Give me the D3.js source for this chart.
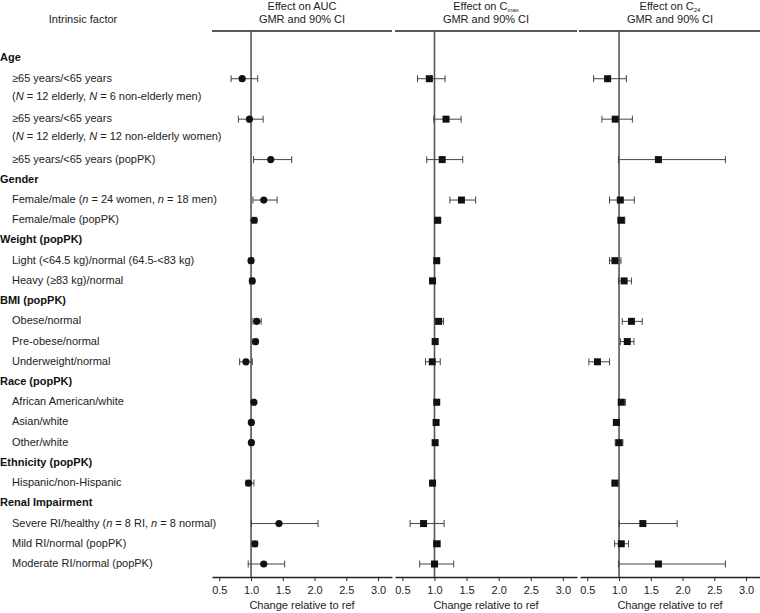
<!DOCTYPE html>
<html><head><meta charset="utf-8">
<script src="https://cdn.jsdelivr.net/npm/d3@7"></script>
<style>
body{margin:0;background:#fff;}
svg{display:block;font-family:"Liberation Sans",Arial,Helvetica,sans-serif;}
</style></head>
<body><div id="chart"></div>
<script>
// ---- data ----
// rows: [slot, kind, label]  kind: "h" header, "r" row
const groupHeaders = [
  {slot:0, text:"Age"},
  {slot:6, text:"Gender"},
  {slot:9, text:"Weight (popPK)"},
  {slot:12, text:"BMI (popPK)"},
  {slot:16, text:"Race (popPK)"},
  {slot:20, text:"Ethnicity (popPK)"},
  {slot:22, text:"Renal Impairment"}
];
const rowSlots = [1,3,5,7,8,10,11,13,14,15,17,18,19,21,23,24,25];
const rowLabels = [
  [["≥65 years/<65 years"],["(","N*"," = 12 elderly, ","N*"," = 6 non-elderly men)"]],
  [["≥65 years/<65 years"],["(","N*"," = 12 elderly, ","N*"," = 12 non-elderly women)"]],
  [["≥65 years/<65 years (popPK)"]],
  [["Female/male (","n*"," = 24 women, ","n*"," = 18 men)"]],
  [["Female/male (popPK)"]],
  [["Light (<64.5 kg)/normal (64.5-<83 kg)"]],
  [["Heavy (≥83 kg)/normal"]],
  [["Obese/normal"]],
  [["Pre-obese/normal"]],
  [["Underweight/normal"]],
  [["African American/white"]],
  [["Asian/white"]],
  [["Other/white"]],
  [["Hispanic/non-Hispanic"]],
  [["Severe RI/healthy (","n*"," = 8 RI, ","n*"," = 8 normal)"]],
  [["Mild RI/normal (popPK)"]],
  [["Moderate RI/normal (popPK)"]]
];
// AUC
const aucEst = [0.86,0.975,1.31,1.20,1.05,1.00,1.02,1.09,1.07,0.92,1.045,1.005,1.005,0.96,1.44,1.06,1.20];
const aucLo  = [0.685,0.80,1.04,1.03,1.02,0.97,0.98,1.03,1.03,0.82,1.02,0.98,0.98,0.92,1.005,1.02,0.955];
const aucHi  = [1.105,1.19,1.64,1.41,1.09,1.03,1.05,1.16,1.105,1.02,1.07,1.03,1.03,1.045,2.055,1.10,1.53];
// Cmax
const cmaxEst = [0.92,1.18,1.12,1.42,1.05,1.035,0.97,1.065,1.01,0.965,1.035,1.025,1.01,0.97,0.83,1.035,1.00];
const cmaxLo  = [0.735,0.99,0.88,1.24,1.02,1.00,0.94,1.01,0.97,0.86,1.01,1.00,0.99,0.95,0.62,0.99,0.77];
const cmaxHi  = [1.165,1.415,1.44,1.64,1.08,1.07,1.00,1.14,1.05,1.09,1.06,1.05,1.03,0.99,1.15,1.09,1.30];
// C24
const c24Est = [0.82,0.94,1.62,1.02,1.035,0.935,1.08,1.195,1.13,0.66,1.035,0.96,1.00,0.935,1.375,1.035,1.62];
const c24Lo  = [0.60,0.73,0.99,0.85,0.98,0.85,0.99,1.05,1.02,0.525,0.99,0.91,0.94,0.895,1.00,0.93,0.99];
const c24Hi  = [1.115,1.21,2.675,1.24,1.09,1.03,1.195,1.365,1.235,0.85,1.10,1.00,1.06,0.98,1.915,1.15,2.675];
const tickValues = [0.5,1.0,1.5,2.0,2.5,3.0];
const tickLabels = ["0.5","1.0","1.5","2.0","2.5","3.0"];

const panels = [
  {title:["Effect on AUC"], est:aucEst, lo:aucLo, hi:aucHi, marker:"circle", range:[212,392], top:[212,392]},
  {title:["Effect on C","max"], est:cmaxEst, lo:cmaxLo, hi:cmaxHi, marker:"square", range:[395,577], top:[395,577]},
  {title:["Effect on C","24"], est:c24Est, lo:c24Lo, hi:c24Hi, marker:"square", range:[580,760], top:[579,760]}
];

// ---- drawing ----
const W=760,H=613;
const svg=d3.select("#chart").append("svg").attr("width",W).attr("height",H);
const y=d3.scaleLinear().domain([0,25]).range([58.5,564]);
const topY=31, axisY=577;
const fs=11;

svg.append("text").attr("x",83).attr("y",20).attr("text-anchor","middle")
  .attr("dominant-baseline","middle").attr("font-size",fs).attr("fill","#222").text("Intrinsic factor");

// group headers
svg.selectAll("text.gh").data(groupHeaders).join("text").attr("class","gh")
  .attr("x",0).attr("y",d=>y(d.slot)).attr("dominant-baseline","middle")
  .attr("font-size",fs).attr("font-weight","bold").attr("fill","#111").text(d=>d.text);

// row labels
rowLabels.forEach((lines,i)=>{
  lines.forEach((parts,j)=>{
    const t=svg.append("text").attr("x",12).attr("y",y(rowSlots[i])+j*18)
      .attr("dominant-baseline","middle").attr("font-size",fs).attr("fill","#222");
    parts.forEach(p=>{
      if(p.endsWith("*")) t.append("tspan").attr("font-style","italic").text(p.slice(0,-1));
      else t.append("tspan").text(p);
    });
  });
});

panels.forEach(p=>{
  const x=d3.scaleLinear().domain([0.385,3.22]).range(p.range);
  const cx=(p.range[0]+p.range[1])/2;
  // titles
  const t1=svg.append("text").attr("x",cx).attr("y",7).attr("text-anchor","middle")
    .attr("dominant-baseline","middle").attr("font-size",fs).attr("fill","#222");
  t1.append("tspan").text(p.title[0]);
  if(p.title[1]) t1.append("tspan").attr("font-size",6).attr("dy",3).text(p.title[1]);
  svg.append("text").attr("x",cx).attr("y",20).attr("text-anchor","middle")
    .attr("dominant-baseline","middle").attr("font-size",fs).attr("fill","#222").text("GMR and 90% CI");
  // top line
  svg.append("line").attr("x1",p.top[0]).attr("x2",p.top[1]).attr("y1",topY).attr("y2",topY)
    .attr("stroke","#222").attr("stroke-width",1.3);
  // bottom axis
  const ax=d3.axisBottom(x).tickValues(tickValues).tickFormat((d,i)=>tickLabels[i]).tickSize(4).tickSizeOuter(0);
  const g=svg.append("g").attr("transform",`translate(0,${axisY})`).call(ax);
  g.select(".domain").attr("stroke","#222").attr("stroke-width",1.3);
  g.selectAll(".tick line").attr("stroke","#222");
  g.selectAll(".tick text").attr("font-size",fs).attr("fill","#222").attr("font-family","Liberation Sans, Arial, sans-serif").attr("dy","0.9em");
  svg.append("text").attr("x",cx).attr("y",606).attr("text-anchor","middle")
    .attr("dominant-baseline","middle").attr("font-size",fs).attr("fill","#222").text("Change relative to ref");
  // ref line
  svg.append("line").attr("x1",x(1)).attr("x2",x(1)).attr("y1",topY).attr("y2",axisY)
    .attr("stroke","#555").attr("stroke-width",1.6);
  // error bars
  const data=p.est.map((e,i)=>({e,lo:p.lo[i],hi:p.hi[i],yy:y(rowSlots[i])}));
  const eb=svg.append("g").attr("stroke","#444").attr("stroke-width",1);
  data.forEach(d=>{
    eb.append("line").attr("x1",x(d.lo)).attr("x2",x(d.hi)).attr("y1",d.yy).attr("y2",d.yy);
    eb.append("line").attr("x1",x(d.lo)).attr("x2",x(d.lo)).attr("y1",d.yy-3.5).attr("y2",d.yy+3.5);
    eb.append("line").attr("x1",x(d.hi)).attr("x2",x(d.hi)).attr("y1",d.yy-3.5).attr("y2",d.yy+3.5);
  });
  if(p.marker==="circle"){
    svg.append("g").selectAll("circle").data(data).join("circle")
      .attr("cx",d=>x(d.e)).attr("cy",d=>d.yy).attr("r",3.6).attr("fill","#111");
  } else {
    svg.append("g").selectAll("rect").data(data).join("rect")
      .attr("x",d=>x(d.e)-3.5).attr("y",d=>d.yy-3.5).attr("width",7).attr("height",7).attr("fill","#111");
  }
});
</script></body></html>
